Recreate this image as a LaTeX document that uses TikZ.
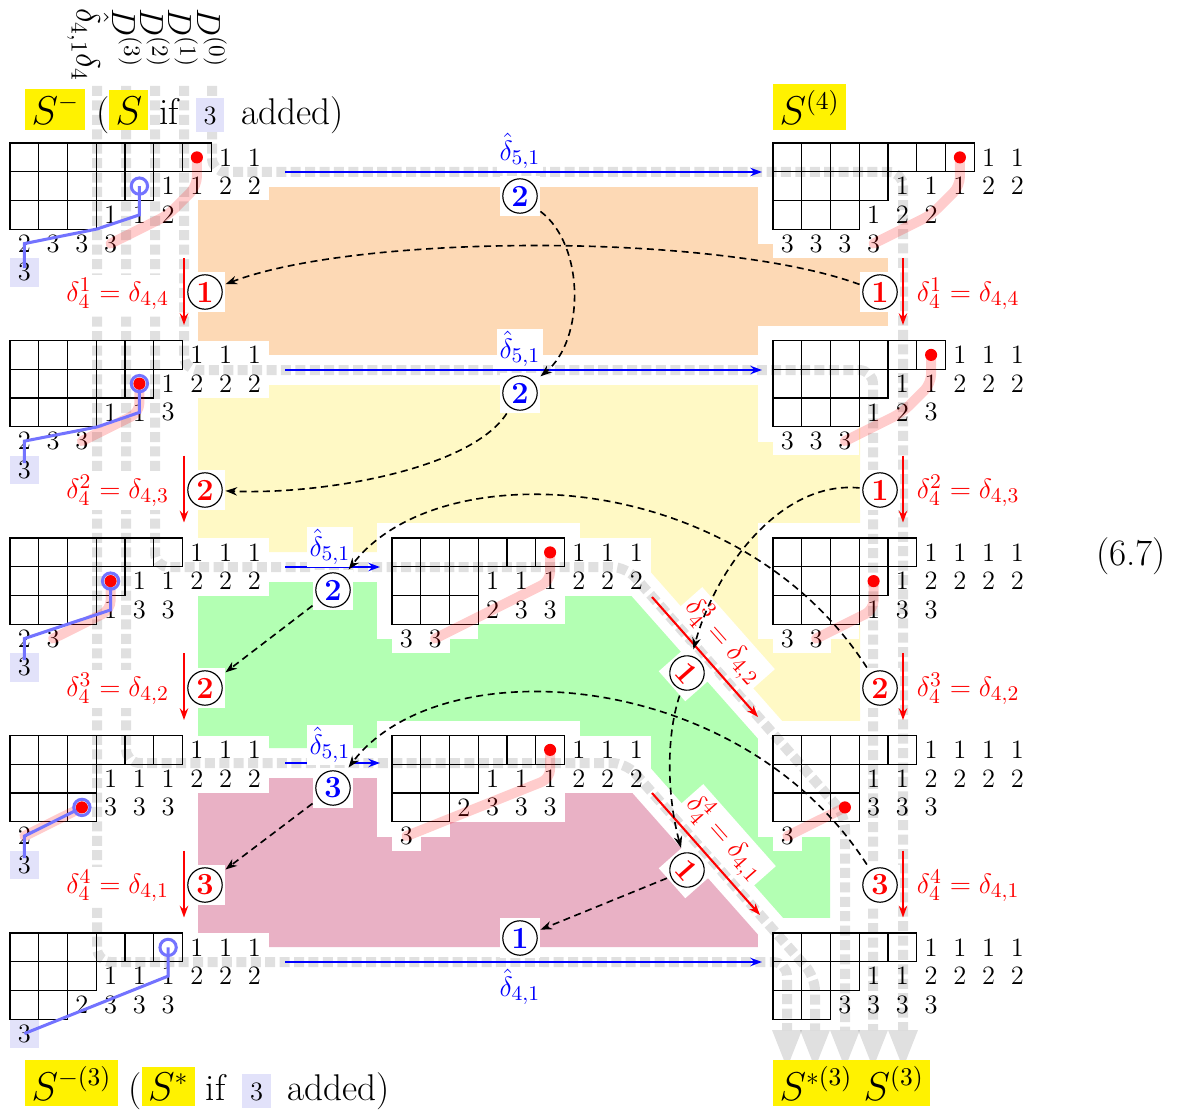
\documentclass[tikz,border=0pt]{standalone}
\usetikzlibrary{arrows.meta}
\definecolor{peach}{RGB}{253,217,181}
\definecolor{lemon}{RGB}{255,249,197}
\definecolor{mint}{RGB}{179,255,179}
\definecolor{mauve}{RGB}{233,177,197}
\definecolor{lav}{RGB}{226,226,250}
\definecolor{hilite}{RGB}{255,242,0}
\setlength{\fboxsep}{2.6pt}
\def\cw{28.75}
\newcommand\entryfont{\fontsize{11.4}{13}\selectfont}
\newcommand\labelfont{\fontsize{13.2}{15}\selectfont}
\newcommand\namefont{\fontsize{14}{16}\selectfont}
\newcommand\bigfont{\fontsize{16}{19}\selectfont}
\newcommand\addedbox{\hspace{0.45em}{\setlength{\fboxsep}{3.4pt}\colorbox{lav}{\entryfont 3}}\hspace{0.45em}}
% cells of a Young diagram: x0, y0, row lengths
\newcommand\youngcells[3]{%
  \foreach \rowlen [count=\rowi] in {#3}{%
    \foreach \coli in {1,...,\rowlen}{%
      \draw[cellline] ({#1+(\coli-1)*\cw},{#2+(\rowi-1)*\cw}) rectangle ++(\cw,\cw);}}}
% entries written beside the diagram: row/column/value
\newcommand\youngentries[3]{%
  \foreach \rowi/\coli/\val in {#3}{%
    \node[entry] at ({#1+(\coli-0.5)*\cw},{#2+(\rowi-0.5)*\cw}) {\val};}}
% white ground under a diagram with a margin on the left, top and bottom
\newcommand\youngbg[3]{%
  \foreach \rowlen [count=\rowi] in {#3}{%
    \fill[white] ({#1-15},{#2+(\rowi-1)*\cw}) rectangle ({#1+\rowlen*\cw},{#2+\rowi*\cw});
    \ifnum\rowi=1 \fill[white] ({#1-15},{#2-15}) rectangle ({#1+\rowlen*\cw+15},{#2+\cw});\fi
    \ifnum\rowi=3 \fill[white] ({#1-15},{#2+2*\cw}) rectangle ({#1+\rowlen*\cw},{#2+3*\cw+15});\fi}}
% the added 3 in the first column: x0, y0, row
\newcommand\addedthree[3]{%
  \node[entry, fill=lav] at ({#1+0.5*\cw},{#2+(#3-0.5)*\cw}) {3};}
\begin{document}
\begin{tikzpicture}[x=0.43pt, y=-0.43pt,
  cellline/.style={line width=0.5pt},
  entry/.style={fill=white, inner sep=0pt, minimum size=12.36pt, font=\entryfont},
  graypath/.style={line width=4.3pt, dash pattern=on 4.3pt off 1.9pt, draw=black, opacity=0.12, rounded corners=6pt},
  grayhead/.style={fill=black, opacity=0.12},
  pinkpath/.style={line width=4.3pt, draw=red, opacity=0.2, line cap=round, line join=round, rounded corners=4pt},
  bluepath/.style={line width=1.3pt, draw=blue!55},
  ring/.style={draw=blue!55, line width=1.3pt},
  bluearr/.style={draw=blue, line width=0.9pt, -{Stealth[length=5pt,width=3.6pt]}},
  redarr/.style={draw=red, line width=0.9pt, -{Stealth[length=5pt,width=3.6pt]}},
  dasharr/.style={draw=black, line width=0.7pt, dash pattern=on 3pt off 2pt, -{Stealth[length=5pt,width=3.6pt]}},
  circ/.style={rectangle, fill=white, minimum size=17.2pt, inner sep=0pt, font=\labelfont\bfseries,
    path picture={\draw[black, line width=0.5pt] (path picture bounding box.center) circle (7.4pt);}},
  rlbl/.style={fill=white, text=red, font=\labelfont, inner sep=1.5pt},
  blbl/.style={fill=white, text=blue, font=\labelfont, inner sep=1pt},
  biglbl/.style={inner sep=0pt, font=\bigfont},
  pathname/.style={inner sep=0pt, font=\namefont, rotate=-90, anchor=west}
]
\useasboundingbox (0,0) rectangle (1178,1115);

% coloured bands between the paths
\fill[peach] (198,187) rectangle (888,355);
\fill[lemon] (198,385) -- (860,385) -- (860,809) -- (633,552) -- (198,552) -- cycle;
\fill[mint] (198,582) -- (619,582) -- (830,820) -- (830,971) -- (633,748) -- (198,748) -- cycle;
\fill[mauve] (198,778) -- (619,778) -- (769,947) -- (198,947) -- cycle;

% white grounds of the diagrams
\youngbg{10}{143}{7,5,3}
\youngbg{10}{340.5}{6,5,3}
\youngbg{10}{538}{6,4,3}
\youngbg{10}{735.5}{6,3,3}
\youngbg{10}{933}{6,3,2}
\youngbg{392}{538}{6,3,3}
\youngbg{392}{735.5}{6,3,2}
\youngbg{773}{143}{7,4,3}
\youngbg{773}{340.5}{6,4,3}
\youngbg{773}{538}{5,4,3}
\youngbg{773}{735.5}{5,3,3}
\youngbg{773}{933}{5,3,2}

% entries
\youngentries{10}{143}{1/8/1,1/9/1,2/6/1,2/7/1,2/8/2,2/9/2,3/4/1,3/5/1,3/6/2,4/1/2,4/2/3,4/3/3,4/4/3}
\addedthree{10}{143}{5}
\youngentries{10}{340.5}{1/7/1,1/8/1,1/9/1,2/6/1,2/7/2,2/8/2,2/9/2,3/4/1,3/5/1,3/6/3,4/1/2,4/2/3,4/3/3}
\addedthree{10}{340.5}{5}
\youngentries{10}{538}{1/7/1,1/8/1,1/9/1,2/5/1,2/6/1,2/7/2,2/8/2,2/9/2,3/4/1,3/5/3,3/6/3,4/1/2,4/2/3}
\addedthree{10}{538}{5}
\youngentries{10}{735.5}{1/7/1,1/8/1,1/9/1,2/4/1,2/5/1,2/6/1,2/7/2,2/8/2,2/9/2,3/4/3,3/5/3,3/6/3,4/1/2}
\addedthree{10}{735.5}{5}
\youngentries{10}{933}{1/7/1,1/8/1,1/9/1,2/4/1,2/5/1,2/6/1,2/7/2,2/8/2,2/9/2,3/3/2,3/4/3,3/5/3,3/6/3}
\addedthree{10}{933}{4}
\youngentries{392}{538}{1/7/1,1/8/1,1/9/1,2/4/1,2/5/1,2/6/1,2/7/2,2/8/2,2/9/2,3/4/2,3/5/3,3/6/3,4/1/3,4/2/3}
\youngentries{392}{735.5}{1/7/1,1/8/1,1/9/1,2/4/1,2/5/1,2/6/1,2/7/2,2/8/2,2/9/2,3/3/2,3/4/3,3/5/3,3/6/3,4/1/3}
\youngentries{773}{143}{1/8/1,1/9/1,2/5/1,2/6/1,2/7/1,2/8/2,2/9/2,3/4/1,3/5/2,3/6/2,4/1/3,4/2/3,4/3/3,4/4/3}
\youngentries{773}{340.5}{1/7/1,1/8/1,1/9/1,2/5/1,2/6/1,2/7/2,2/8/2,2/9/2,3/4/1,3/5/2,3/6/3,4/1/3,4/2/3,4/3/3}
\youngentries{773}{538}{1/6/1,1/7/1,1/8/1,1/9/1,2/5/1,2/6/2,2/7/2,2/8/2,2/9/2,3/4/1,3/5/3,3/6/3,4/1/3,4/2/3}
\youngentries{773}{735.5}{1/6/1,1/7/1,1/8/1,1/9/1,2/4/1,2/5/1,2/6/2,2/7/2,2/8/2,2/9/2,3/4/3,3/5/3,3/6/3,4/1/3}
\youngentries{773}{933}{1/6/1,1/7/1,1/8/1,1/9/1,2/4/1,2/5/1,2/6/2,2/7/2,2/8/2,2/9/2,3/3/3,3/4/3,3/5/3,3/6/3}

% the five grey paths D(0), D(1), D(2), D(3) and hat-delta_{4,1} delta_4
\draw[graypath] (212,86) -- (212,172) -- (903,172) -- (903,1030);
\draw[graypath] (184,86) -- (184,370) -- (873,370) -- (873,1030);
\draw[graypath] (155,86) -- (155,567) -- (626,567) -- (845,815) -- (845,1030);
\draw[graypath] (126,86) -- (126,763) -- (626,763) -- (815,977) -- (815,1030);
\draw[graypath] (97,86) -- (97,962) -- (787,962) -- (787,1030);
\foreach \hx in {787,815,845,873,903}
  \fill[grayhead] ({\hx-15},1030) -- ({\hx+15},1030) -- (\hx,1068) -- cycle;

% diagram cells
\youngcells{10}{143}{7,5,3}
\youngcells{10}{340.5}{6,5,3}
\youngcells{10}{538}{6,4,3}
\youngcells{10}{735.5}{6,3,3}
\youngcells{10}{933}{6,3,2}
\youngcells{392}{538}{6,3,3}
\youngcells{392}{735.5}{6,3,2}
\youngcells{773}{143}{7,4,3}
\youngcells{773}{340.5}{6,4,3}
\youngcells{773}{538}{5,4,3}
\youngcells{773}{735.5}{5,3,3}
\youngcells{773}{933}{5,3,2}

% red bumping paths
\draw[pinkpath] (196.9,157.4) -- (196.9,186.1) -- (168.1,214.9) -- (110.6,243.6);
\draw[pinkpath] (139.4,383.6) -- (139.4,412.4) -- (81.9,441.1);
\draw[pinkpath] (110.6,581.1) -- (110.6,609.9) -- (53.1,638.6);
\draw[pinkpath] (81.9,807.4) -- (24.4,836.1);
\draw[pinkpath] (550.1,552.4) -- (550.1,581.1) -- (435.1,638.6);
\draw[pinkpath] (550.1,749.9) -- (550.1,778.6) -- (406.4,836.1);
\draw[pinkpath] (959.9,157.4) -- (959.9,186.1) -- (931.1,214.9) -- (873.6,243.6);
\draw[pinkpath] (931.1,354.9) -- (931.1,383.6) -- (902.4,412.4) -- (844.9,441.1);
\draw[pinkpath] (873.6,581.1) -- (873.6,609.9) -- (816.1,638.6);
\draw[pinkpath] (844.9,807.4) -- (787.4,836.1);

% blue bumping paths
\draw[bluepath] (139.4,186.1) -- (139.4,214.9) -- (97,229) -- (24.4,243.6) -- (24.4,268);
\draw[bluepath] (139.4,383.6) -- (139.4,412.4) -- (97,427) -- (24.4,441.1) -- (24.4,463);
\draw[bluepath] (110.6,581.1) -- (110.6,609.9) -- (24.4,638.6) -- (24.4,660);
\draw[bluepath] (81.9,807.4) -- (24.4,836.1) -- (24.4,858);
\draw[bluepath] (168.1,947.4) -- (168.1,976.1) -- (24.4,1033.6);

% marked boxes
\foreach \px/\py in {196.9/157.4,139.4/383.6,110.6/581.1,81.9/807.4,550.1/552.4,550.1/749.9,959.9/157.4,931.1/354.9,873.6/581.1,844.9/807.4}
  \fill[red] (\px,\py) circle (2.6pt);
\foreach \px/\py in {139.4/186.1,139.4/383.6,110.6/581.1,81.9/807.4,168.1/947.4}
  \draw[ring] (\px,\py) circle (3.5pt);

% horizontal moves
\coordinate (hA1) at (285,172); \coordinate (hA2) at (762,172);
\coordinate (hB1) at (285,370); \coordinate (hB2) at (762,370);
\coordinate (hC1) at (285,567); \coordinate (hC2) at (380,567);
\coordinate (hD1) at (285,763); \coordinate (hD2) at (380,763);
\coordinate (hE1) at (285,962); \coordinate (hE2) at (762,962);
\draw[bluearr] (hA1) -- (hA2);
\draw[bluearr] (hB1) -- (hB2);
\draw[bluearr] (hC1) -- (hC2);
\draw[bluearr] (hD1) -- (hD2);
\draw[bluearr] (hE1) -- (hE2);
\node[blbl] (hlA) at (520,151) {$\hat\delta_{5,1}$};
\node[blbl] (hlB) at (520,349) {$\hat\delta_{5,1}$};
\node[blbl] (hlC) at (330,547) {$\hat\delta_{5,1}$};
\node[blbl] (hlD) at (330,745) {$\hat\delta_{5,1}$};
\node[blbl] (hlE) at (520,987) {$\hat\delta_{4,1}$};

% vertical moves
\foreach \vx/\tag in {184/l,903/r}{
  \foreach \vy/\row in {258/A,455.5/B,653/C,850.5/D}{
    \coordinate (v\tag\row1) at (\vx,\vy);
    \coordinate (v\tag\row2) at (\vx,{\vy+67});
    \draw[redarr] (v\tag\row1) -- (v\tag\row2);}}
\node[rlbl, anchor=east] (llA) at (173,294) {$\delta_4^1=\delta_{4,4}$};
\node[rlbl, anchor=east] (llB) at (173,491) {$\delta_4^2=\delta_{4,3}$};
\node[rlbl, anchor=east] (llC) at (173,689) {$\delta_4^3=\delta_{4,2}$};
\node[rlbl, anchor=east] (llD) at (173,886) {$\delta_4^4=\delta_{4,1}$};
\node[rlbl, anchor=west] (rlA) at (913,294) {$\delta_4^1=\delta_{4,4}$};
\node[rlbl, anchor=west] (rlB) at (913,491) {$\delta_4^2=\delta_{4,3}$};
\node[rlbl, anchor=west] (rlC) at (913,689) {$\delta_4^3=\delta_{4,2}$};
\node[rlbl, anchor=west] (rlD) at (913,886) {$\delta_4^4=\delta_{4,1}$};

% diagonal moves
\coordinate (dg1) at (652,597); \coordinate (dg2) at (758,717);
\coordinate (dg3) at (652,793); \coordinate (dg4) at (760,915);
\node[rlbl, rotate=-48.5] (dlC) at (724,641) {$\delta_4^3=\delta_{4,2}$};
\node[rlbl, rotate=-48.5] (dlD) at (725,838) {$\delta_4^4=\delta_{4,1}$};
\draw[redarr] (dg1) -- (dg2);
\draw[redarr] (dg3) -- (dg4);

% numbered steps
\node[circ, text=blue] (bA) at (520,196) {2};
\node[circ, text=blue] (bB) at (520,393) {2};
\node[circ, text=blue] (bC) at (333,590) {2};
\node[circ, text=blue] (bD) at (333,788) {3};
\node[circ, text=blue] (bE) at (520,938) {1};
\node[circ, text=red] (lA) at (205,292) {1};
\node[circ, text=red] (lB) at (205,490) {2};
\node[circ, text=red] (lC) at (205,688) {2};
\node[circ, text=red] (lD) at (205,885) {3};
\node[circ, text=red] (rA) at (880,292) {1};
\node[circ, text=red] (rB) at (880,490) {1};
\node[circ, text=red] (rC) at (880,688) {2};
\node[circ, text=red] (rD) at (880,885) {3};
\node[circ, text=red, rotate=-48.5] (dC) at (687,673) {1};
\node[circ, text=red, rotate=-48.5] (dD) at (687,870) {1};

% order of the steps
\draw[dasharr] (bA) .. controls (585,245) and (585,340) .. (bB);
\draw[dasharr] (rA) .. controls (720,233) and (360,233) .. (lA);
\draw[dasharr] (bB) .. controls (470,470) and (320,495) .. (lB);
\draw[dasharr] (rB) .. controls (780,480) and (715,570) .. (dC);
\draw[dasharr] (dC) .. controls (665,740) and (668,800) .. (dD);
\draw[dasharr] (dD) -- (bE);
\draw[dasharr] (rC) .. controls (740,470) and (440,450) .. (bC);
\draw[dasharr] (rD) .. controls (740,667) and (440,647) .. (bD);
\draw[dasharr] (bC) -- (lC);
\draw[dasharr] (bD) -- (lD);

% names of the paths
\node[pathname] (nD4) at (88,8) {$\hat\delta_{4,1}\delta_4$};
\node[pathname] (nD3) at (127,8) {$D^{(3)}$};
\node[pathname] (nD2) at (155,8) {$D^{(2)}$};
\node[pathname] (nD1) at (183,8) {$D^{(1)}$};
\node[pathname] (nD0) at (212,8) {$D^{(0)}$};

% names of the tableaux
\node[biglbl, anchor=base west] (tl) at (25,124)
  {\colorbox{hilite}{$S^-$}\ (\colorbox{hilite}{$S$} if\addedbox added)};
\node[biglbl, anchor=base west] (tr) at (773,124) {\colorbox{hilite}{$S^{(4)}$}};
\node[biglbl, anchor=base west] (bl) at (25,1100)
  {\colorbox{hilite}{$S^{-(3)}$}\ (\colorbox{hilite}{$S^*$} if\addedbox added)};
\node[biglbl, anchor=base west] (br) at (773,1100) {\colorbox{hilite}{$S^{*(3)}\;S^{(3)}$}};
\node[biglbl] (eqno) at (1131,556) {(6.7)};
\end{tikzpicture}
\end{document}
